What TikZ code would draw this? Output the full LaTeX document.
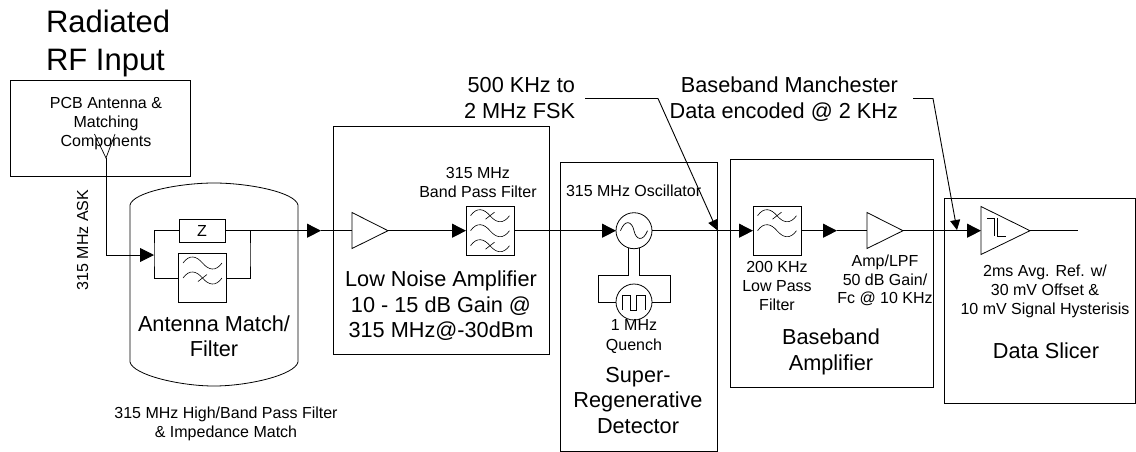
\documentclass[tikz,border=0pt]{standalone}
\usepackage{fontspec}
\setmainfont{Liberation Sans}
\usetikzlibrary{arrows.meta}
\tikzset{
  x=1pt,y=-1pt,
  every node/.style={inner sep=0pt,outer sep=0pt},
  blk/.style={draw=black,line width=0.8pt,anchor=north west},
  lbl/.style={font=\fontsize{16}{19}\selectfont,align=center,anchor=base},
  big/.style={font=\fontsize{21.7}{25.5}\selectfont,align=center,anchor=base},
  fbox/.style={draw=black,line width=0.8pt,minimum width=48pt,minimum height=48.5pt,fill=white},
  cir/.style={circle,draw=black,line width=0.8pt,minimum size=36pt},
  amp/.style={draw=black,line width=0.8pt},
  sig/.style={line width=0.9pt},
  sigar/.style={line width=0.9pt,-{Triangle[length=14pt,width=14pt]}},
  callout/.style={line width=0.9pt,-{Triangle[length=10pt,width=10pt]}},
  pics/wv/.style={code={\draw[line width=0.6pt] (-19.5,0) .. controls (-13,-9) and (-6,-7) .. (0,0) .. controls (6,7) and (13,9) .. (19.5,0);}},
  pics/slash/.style={code={\draw[line width=0.6pt] (-4.5,3.5) -- (4.5,-3.5);}},
  pics/sq/.style={code={\draw[line width=0.7pt] (-11.7,8) -- (-11.7,-6.3) -- (-4,-6.3) -- (-4,8) -- (2.7,8) -- (2.7,-6.3) -- (11,-6.3) -- (11,8);}},
}
\begin{document}
\begin{tikzpicture}
\useasboundingbox (0,0) rectangle (1136,451);
% titles
\node[font=\fontsize{31}{38}\selectfont,anchor=base west] (title) at (46,32) {Radiated};
\node[font=\fontsize{31}{38}\selectfont,anchor=base west] (title2) at (46,70) {RF Input};
% PCB box
\node[blk,minimum width=180pt,minimum height=96pt] (pcb) at (10.5,80.5) {};
\node[lbl] (p1) at (106,108) {PCB Antenna \&};
\node[lbl] (p2) at (106,127.5) {Matching};
\node[lbl] (p3) at (106,146.5) {Components};
\coordinate (ant) at (106,158);
\draw[line width=0.7pt] (94.5,134) -- (ant) -- (115,134);
% canister
\draw[line width=0.8pt] (130,205) .. controls (133,192) and (180,183) .. (214,183) .. controls (248,183) and (295,192) .. (298,205) -- (298,362) .. controls (295,375) and (248,386) .. (214,386) .. controls (180,386) and (133,375) .. (130,362) -- cycle;
% other blocks
\node[blk,minimum width=216pt,minimum height=228pt] (lna) at (333,126.5) {};
\node[blk,minimum width=157pt,minimum height=288.5pt] (det) at (560.5,162.5) {};
\node[blk,minimum width=203pt,minimum height=228pt] (bb) at (730.5,159.5) {};
\node[blk,minimum width=191.5pt,minimum height=205pt] (ds) at (944,198.5) {};
% canister internals
\node[draw=black,line width=0.8pt,minimum width=46pt,minimum height=23pt,font=\fontsize{16}{19}\selectfont] (z) at (202,230.7) {Z};
\node[fbox] (f1) at (202.5,278) {};
\pic at ([yshift=15pt]f1.center) {wv};
\pic at (f1.center) {wv};
\pic at (f1.center) {slash};
\coordinate (jl) at (154,255);
\coordinate (jr) at (250,255);
\draw[sig] (z.west) -| (jl) |- (f1.west);
\draw[sig] (z.east) -| (jr) |- (f1.east);
\draw[sigar] (ant) |- (jl);
% LNA
\coordinate (a1in) at (352,230.7);
\coordinate (a1out) at (388,230.7);
\draw[amp] (352,212.5) -- (a1out) -- (352,248.5) -- cycle;
\node[fbox] (f2) at (490,230.7) {};
\pic at ([yshift=15pt]f2.center) {wv};
\pic at (f2.center) {wv};
\pic at ([yshift=-15pt]f2.center) {wv};
\pic at ([yshift=15pt]f2.center) {slash};
\pic at ([yshift=-15pt]f2.center) {slash};
\draw[sigar] (jr |- z.east) -- (321,230.7) coordinate (t1);
\draw[sig] (t1) -- (a1in);
\draw[sigar] (a1out) -- (f2.west);
% detector
\node[cir,fill=white] (osc) at (634,230.7) {};
\draw[line width=0.7pt] (620.5,230.7) .. controls (625,219) and (632,221) .. (634,230.7) .. controls (636,240) and (643,242) .. (647.5,230.7);
\node[cir,fill=white] (qn) at (634,302) {};
\pic at (qn.center) {sq};
\coordinate (ql) at (598,275);
\coordinate (qr) at (670,275);
\coordinate (sl) at (628,275);
\coordinate (sr) at (639.5,275);
\coordinate (ol1) at (628,247.7);
\coordinate (or1) at (639.5,247.7);
\draw[line width=0.8pt] (ol1) -- (sl) -- (ql) |- (qn.west);
\draw[line width=0.8pt] (or1) -- (sr) -- (qr) |- (qn.east);
\draw[sigar] (f2.east) -- (osc.west);
% baseband
\node[fbox] (f3) at (777,230.7) {};
\pic at ([yshift=15pt]f3.center) {wv};
\pic at (f3.center) {wv};
\pic at ([yshift=15pt]f3.center) {slash};
\coordinate (a2in) at (867,230.7);
\coordinate (a2out) at (903,230.7);
\draw[amp] (867,212.5) -- (a2out) -- (867,248.5) -- cycle;
\draw[sigar] (osc.east) -- (f3.west);
\draw[sigar] (f3.east) -- (837,230.7) coordinate (t2);
\draw[sig] (t2) -- (a2in);
% slicer
\coordinate (a3in) at (981,230.7);
\coordinate (a3out) at (1030,230.7);
\draw[amp] (981,206.5) -- (a3out) -- (981,254.5) -- cycle;
\draw[line width=0.7pt] (987,218) -- (994,218) -- (994,236);
\draw[line width=0.7pt] (997,218) -- (997,236) -- (1006,236);
\coordinate (out) at (1078,230.7);
\draw[sigar] (a2out) -- (a3in);
\draw[sig] (a3out) -- (out);
% labels
\node[lbl,rotate=90,anchor=base] (ask) at (88,240) {315 MHz ASK};
\node[big] (am1) at (214,331) {Antenna Match/};
\node[big] (am2) at (214,356) {Filter};
\node[lbl] (h1) at (226,418) {315 MHz High/Band Pass Filter};
\node[lbl] (h2) at (226,437) {\& Impedance Match};
\node[lbl] (bp1) at (478,178) {315 MHz};
\node[lbl] (bp2) at (478,197) {Band Pass Filter};
\node[big] (ln1) at (441,286) {Low Noise Amplifier};
\node[big] (ln2) at (441,312) {10 - 15 dB Gain @};
\node[big] (ln3) at (441,337) {315 MHz@-30dBm};
\node[lbl,anchor=base west] (ol) at (566,196) {315 MHz Oscillator};
\node[lbl] (q1) at (634,330) {1 MHz};
\node[lbl] (q2) at (634,350) {Quench};
\node[big] (s1) at (638,382) {Super-};
\node[big] (s2) at (638,407.5) {Regenerative};
\node[big] (s3) at (638,433) {Detector};
\node[lbl] (lp1) at (777,272) {200 KHz};
\node[lbl] (lp2) at (777,291) {Low Pass};
\node[lbl] (lp3) at (777,310) {Filter};
\node[lbl] (ap1) at (885,266) {Amp/LPF};
\node[lbl] (ap2) at (885,285) {50 dB Gain/};
\node[lbl] (ap3) at (885,303.5) {Fc @ 10 KHz};
\node[big] (ba1) at (831,344) {Baseband};
\node[big] (ba2) at (831,370) {Amplifier};
\node[lbl] (dl1) at (1045,276) {2ms Avg. Ref. w/};
\node[lbl] (dl2) at (1045,295) {30 mV Offset \&};
\node[lbl] (dl3) at (1045,314) {10 mV Signal Hysterisis};
\node[big] (dsl) at (1046,358) {Data Slicer};
\node[big,anchor=base east] (c1a) at (575,92) {500 KHz to};
\node[big,anchor=base east] (c1b) at (575,118) {2 MHz FSK};
\node[big,anchor=base east] (c2a) at (898,92) {Baseband Manchester};
\node[big,anchor=base east] (c2b) at (898,118) {Data encoded @ 2 KHz};
% callouts
\coordinate (k1) at (658,98.5);
\coordinate (k2) at (933,98.5);
\coordinate (s1a) at (585,98.5);
\coordinate (s2a) at (913,98.5);
\coordinate (tp1) at (717,230);
\coordinate (tp2) at (957,230);
\draw[callout] (s1a) -- (k1) -- (tp1);
\draw[callout] (s2a) -- (k2) -- (tp2);
\end{tikzpicture}
\end{document}
